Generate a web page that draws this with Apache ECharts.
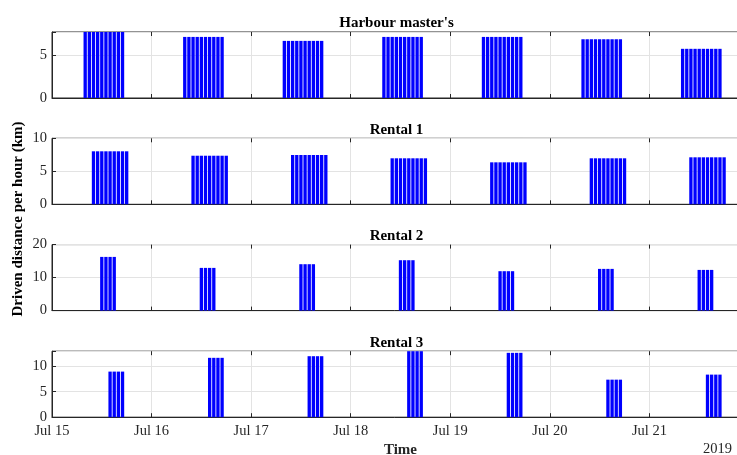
<!DOCTYPE html>
<html>
<head>
<meta charset="utf-8">
<script src="https://cdn.jsdelivr.net/npm/echarts@6/dist/echarts.min.js"></script>
<style>
html,body{margin:0;padding:0;background:#fff;}
#chart{width:737px;height:455px;}
</style>
</head>
<body>
<div id="chart"></div>
<script>
// ---- data ----
const dayLabels = ['Jul 15', 'Jul 16', 'Jul 17', 'Jul 18', 'Jul 19', 'Jul 20', 'Jul 21'];
const panelTitles = ["Harbour master's", 'Rental 1', 'Rental 2', 'Rental 3'];

const harbourHours = [8, 9, 10, 11, 12, 13, 14, 15, 16, 17];
const harbourDaily = [7.65, 7.08, 6.62, 7.08, 7.08, 6.81, 5.70];

const rental1Hours = [10, 11, 12, 13, 14, 15, 16, 17, 18];
const rental1Daily = [8.03, 7.36, 7.47, 6.97, 6.36, 6.97, 7.12];

const rental2Hours = [12, 13, 14, 15];
const rental2Daily = [16.27, 12.94, 14.06, 15.27, 11.94, 12.64, 12.33];

const rental3Hours = [14, 15, 16, 17];
const rental3Daily = [8.94, 11.64, 11.96, 12.94, 12.62, 7.36, 8.35];

const yMax = [7.65, 10, 20, 12.94];
const yInterval = [5, 5, 10, 5];

// ---- build ----
function buildData(hours, daily) {
  const out = [];
  daily.forEach((v, d) => {
    hours.forEach(h => out.push([d * 24 + h, v]));
  });
  return out;
}
const seriesData = [
  buildData(harbourHours, harbourDaily),
  buildData(rental1Hours, rental1Daily),
  buildData(rental2Hours, rental2Daily),
  buildData(rental3Hours, rental3Daily)
];

const FONT = 'Liberation Serif';
const AX = '#262626';
const GRIDC = '#e3e3e3';
const tops = [32, 138.3, 244.6, 351.2];
const H = 66;

const grids = [], xAxes = [], yAxes = [], series = [], titles = [];
tops.forEach((t, i) => {
  grids.push({left: 52, right: -12, top: t, height: H, show: true, borderColor: AX, borderWidth: 1,
    containLabel: false, outerBoundsMode: 'none'});
  const isLast = i === 3;
  xAxes.push({
    type: 'value', gridIndex: i, min: 0, max: 168, interval: 24, position: 'bottom',
    axisLine: {show: true, lineStyle: {color: AX, width: 1}},
    axisTick: {show: true, inside: true, length: 4, lineStyle: {color: AX}},
    splitLine: {show: true, lineStyle: {color: GRIDC, width: 1}},
    axisLabel: {show: isLast, color: AX, fontFamily: FONT, fontSize: 14.5, margin: 6,
      formatter: v => dayLabels[Math.round(v / 24)] || ''},
    name: isLast ? 'Time' : '', nameLocation: 'middle', nameGap: 25,
    nameTextStyle: {color: AX, fontFamily: FONT, fontSize: 15, fontWeight: 'bold'}
  });
  xAxes.push({
    type: 'value', gridIndex: i, min: 0, max: 168, interval: 24, position: 'top',
    axisLine: {show: false},
    axisTick: {show: true, inside: true, length: 4, lineStyle: {color: AX}},
    splitLine: {show: false}, axisLabel: {show: false}
  });
  yAxes.push({
    type: 'value', gridIndex: i, min: 0, max: yMax[i], interval: yInterval[i],
    axisLine: {show: true, lineStyle: {color: AX, width: 1}},
    axisTick: {show: true, inside: true, length: 4, lineStyle: {color: AX}},
    splitLine: {show: true, lineStyle: {color: GRIDC, width: 1}},
    axisLabel: {color: AX, fontFamily: FONT, fontSize: 14.5, margin: 5,
      formatter: v => (Math.abs(v / yInterval[i] - Math.round(v / yInterval[i])) < 1e-6 ? String(v) : '')}
  });
  series.push({
    type: 'bar', xAxisIndex: i * 2, yAxisIndex: i, data: seriesData[i],
    barWidth: '80%', itemStyle: {color: '#0000ff'}, silent: true, animation: false
  });
  titles.push({
    text: panelTitles[i], left: 391.5, top: t - 21, textAlign: 'center',
    textStyle: {fontFamily: FONT, fontSize: 15, fontWeight: 'bold', color: '#000'}
  });
});

const chart = echarts.init(document.getElementById('chart'), null, {renderer: 'canvas'});
chart.setOption({
  animation: false,
  backgroundColor: '#fff',
  title: titles,
  grid: grids,
  xAxis: xAxes,
  yAxis: yAxes,
  series: series,
  graphic: [
    {type: 'text', x: 18, y: 219, rotation: Math.PI / 2,
      style: {text: 'Driven distance per hour (km)', fontFamily: FONT, fontSize: 15, fontWeight: 'bold',
        fill: '#000', align: 'center', verticalAlign: 'middle'}},
    {type: 'text', x: 732, y: 449,
      style: {text: '2019', fontFamily: FONT, fontSize: 14.5, fill: AX, align: 'right', verticalAlign: 'middle'}}
  ]
});
</script>
</body>
</html>
